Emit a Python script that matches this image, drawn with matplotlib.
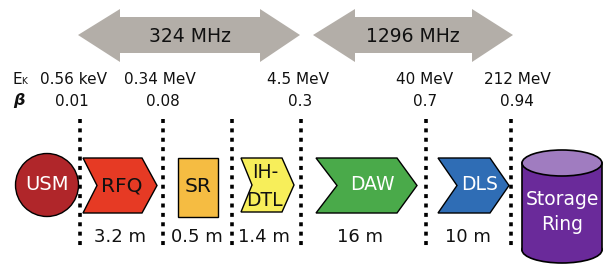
import matplotlib.pyplot as plt
from matplotlib.patches import Polygon, Circle, Rectangle, Ellipse

plt.rcParams['font.family'] = ['DejaVu Sans']

# labels
freqs = ['324 MHz', '1296 MHz']
energies = ['0.56 keV', '0.34 MeV', '4.5 MeV', '40 MeV', '212 MeV']
betas = ['0.01', '0.08', '0.3', '0.7', '0.94']
lengths = ['3.2 m', '0.5 m', '1.4 m', '16 m', '10 m']
sections = ['USM', 'RFQ', 'SR', 'IH-\nDTL', 'DAW', 'DLS', 'Storage\nRing']

# layout (pixels)
W, H = 604, 264
fig = plt.figure(figsize=(W / 100, H / 100), dpi=100)
ax = fig.add_axes([0, 0, 1, 1])
ax.set_xlim(0, W)
ax.set_ylim(H, 0)
ax.axis('off')

gray = '#b3aea8'
ink = '#111111'

def dbl_arrow(x0, hb0, hb1, x1, text, tx):
    pts = [(x0, 35), (hb0, 9), (hb0, 17), (hb1, 17), (hb1, 9), (x1, 35),
           (hb1, 62), (hb1, 53), (hb0, 53), (hb0, 62)]
    ax.add_patch(Polygon(pts, closed=True, fc=gray, ec='none'))
    ax.text(tx, 37, text, ha='center', va='center', fontsize=13.5, color=ink)

dbl_arrow(78, 120, 260, 300, freqs[0], 190)
dbl_arrow(313, 355, 472, 513, freqs[1], 413)

# Ek / beta rows
ax.text(12, 79, 'E', ha='left', va='center', fontsize=11, color=ink)
ax.text(21, 81, 'K', ha='left', va='center', fontsize=6.5, color=ink)
ax.text(13, 101, 'β', ha='left', va='center', fontsize=11.5, color=ink,
        style='italic', fontweight='bold')
e_x = [74, 160, 298, 425, 517]
b_x = [72, 163, 300, 425, 517]
for x, t in zip(e_x, energies):
    ax.text(x, 79, t, ha='center', va='center', fontsize=11, color=ink)
for x, t in zip(b_x, betas):
    ax.text(x, 101, t, ha='center', va='center', fontsize=11, color=ink)

# dotted boundaries
for x in [80, 163, 232, 301, 426, 511]:
    ax.plot([x, x], [119, 249], color='black', lw=2.6,
            linestyle=(0, (1.1, 1.5)), solid_capstyle='butt')

def chevron(xl, notch, sh, xr, top, bot, color):
    mid = (top + bot) / 2
    pts = [(xl, top), (sh, top), (xr, mid), (sh, bot), (xl, bot), (notch, mid)]
    ax.add_patch(Polygon(pts, closed=True, fc=color, ec='black', lw=1))

# USM
ax.add_patch(Circle((47, 185), 31.5, fc='#b0262a', ec='black', lw=1))
ax.text(47, 185, sections[0], ha='center', va='center', fontsize=14, color='white')

# RFQ
chevron(83, 97, 142, 157, 158, 213, '#e63a24')
ax.text(122, 186, sections[1], ha='center', va='center', fontsize=14.5, color=ink)

# SR
ax.add_patch(Rectangle((178, 158), 40, 59, fc='#f5bc42', ec='black', lw=1))
ax.text(198, 186, sections[2], ha='center', va='center', fontsize=14.5, color=ink)

# IH-DTL
chevron(241, 252, 282, 294, 158, 212, '#f7ee5a')
ih, dtl = sections[3].split('\n')
ax.text(265, 172, ih, ha='center', va='center', fontsize=13.5, color=ink)
ax.text(264, 200, dtl, ha='center', va='center', fontsize=13.5, color=ink)

# DAW
chevron(316, 337, 397, 417, 158, 213, '#4aaa4a')
ax.text(372, 184, sections[4], ha='center', va='center', fontsize=13.5, color='white')

# DLS
chevron(438, 457, 490, 509, 158, 213, '#2f6db5')
ax.text(480, 184, sections[5], ha='center', va='center', fontsize=13.5, color='white')

# Storage ring cylinder
cx, rx, ry = 562, 40, 13
ax.add_patch(Ellipse((cx, 250), 2 * rx, 2 * ry, fc='#6a2a9a', ec='black', lw=1.2))
ax.add_patch(Rectangle((cx - rx, 163), 2 * rx, 87, fc='#6a2a9a', ec='none'))
ax.plot([cx - rx, cx - rx], [163, 250], color='black', lw=1.2)
ax.plot([cx + rx, cx + rx], [163, 250], color='black', lw=1.2)
ax.add_patch(Ellipse((cx, 163), 2 * rx, 2 * ry, fc='#a07cc0', ec='black', lw=1.2))
ax.text(cx, 212, sections[6], ha='center', va='center', fontsize=13.5,
        color='white', linespacing=1.35)

# lengths
for x, t in zip([120, 197, 264, 360, 468], lengths):
    ax.text(x, 237, t, ha='center', va='center', fontsize=13, color=ink)

fig.savefig('out.png', dpi=100)
